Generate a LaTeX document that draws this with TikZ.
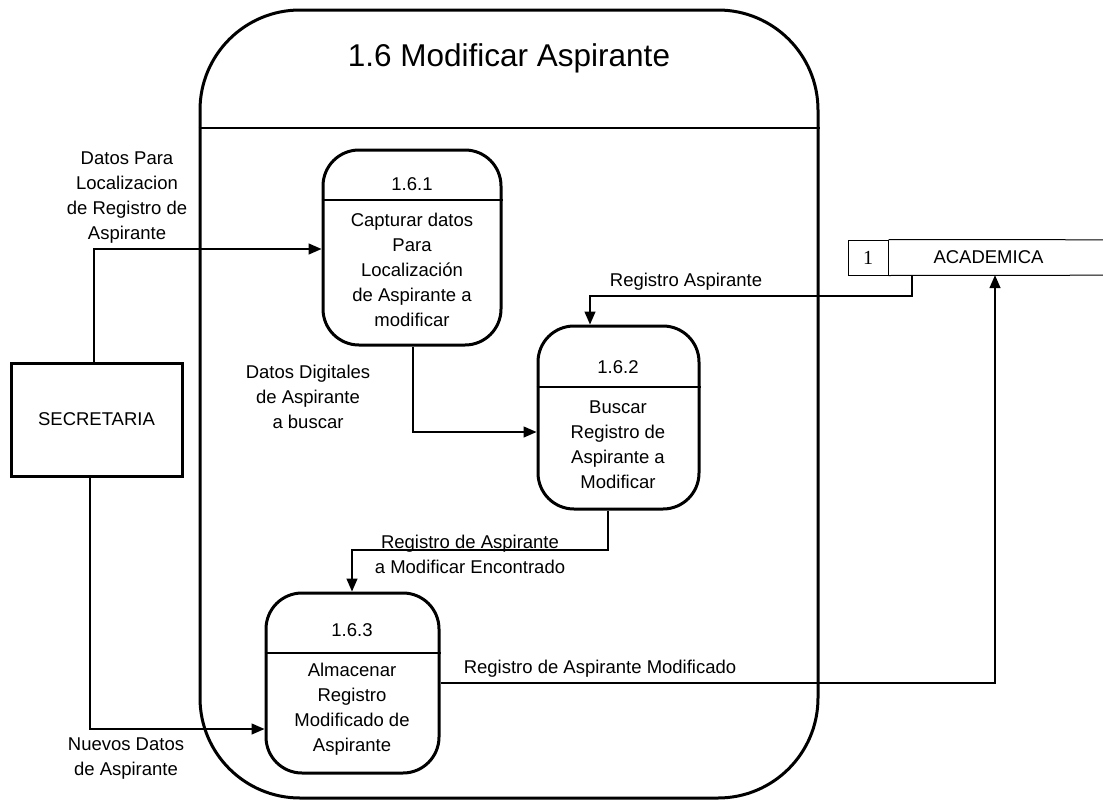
\documentclass[tikz,border=0pt]{standalone}
\usepackage{fontspec}
\setmainfont{Liberation Sans}
\newfontfamily\serifnum{Liberation Serif}
\usetikzlibrary{arrows.meta}
\tikzset{
  txt/.style={font=\fontsize{18.5}{25}\selectfont, align=center, inner sep=0pt},
  proc/.style={draw, line width=3pt, rounded corners=36pt, inner sep=0pt},
  flow/.style={line width=1.4pt, -{Triangle[length=13pt,width=11pt]}},
  thin/.style={line width=1.4pt}
}
\begin{document}
\begin{tikzpicture}[x=1pt,y=-1pt]
\useasboundingbox (0,0) rectangle (1103,803);
% main process
\node[draw, line width=3pt, rounded corners=100pt, minimum width=618pt, minimum height=788pt, inner sep=0pt] (main) at (509,404) {};
\coordinate (md) at (509,128);
\draw[thin] (md -| main.west) -- (md -| main.east);
\node[font=\fontsize{31.5}{36}\selectfont, inner sep=0pt] (title) at (509,58) {1.6 Modificar Aspirante};
% processes
\node[proc, minimum width=178pt, minimum height=195pt] (p1) at (412,247.5) {};
\coordinate (d1) at (412,200);
\draw[thin] (d1 -| p1.west) -- (d1 -| p1.east);
\node[txt] (p1n) at (412,184) {1.6.1};
\node[txt] (p1t) at (412,270) {Capturar datos\\Para\\Localización\\de Aspirante a\\modificar};

\node[proc, minimum width=161pt, minimum height=183pt] (p2) at (618.5,417.5) {};
\coordinate (d2) at (618,387);
\draw[thin] (d2 -| p2.west) -- (d2 -| p2.east);
\node[txt] (p2n) at (618,367) {1.6.2};
\node[txt] (p2t) at (618,445) {Buscar\\Registro de\\Aspirante a\\Modificar};

\node[proc, minimum width=173pt, minimum height=180pt] (p3) at (352.5,683) {};
\coordinate (d3) at (352,653);
\draw[thin] (d3 -| p3.west) -- (d3 -| p3.east);
\node[txt] (p3n) at (352,630) {1.6.3};
\node[txt] (p3t) at (352,709.5) {Almacenar\\Registro\\Modificado de\\Aspirante};
% external entity
\node[draw, line width=3pt, minimum width=171pt, minimum height=113pt, inner sep=0pt, font=\fontsize{18.5}{25}\selectfont] (sec) at (96.5,419.5) {SECRETARIA};
% data store
\node[draw, line width=1pt, minimum width=40pt, minimum height=35pt, inner sep=0pt, font=\serifnum\fontsize{20}{24}\selectfont] (num) at (868,257.5) {1};
\node[minimum width=215pt, minimum height=35pt, inner sep=0pt, font=\fontsize{18.5}{25}\selectfont] (acad) at (995.5,257.5) {\hspace{-14pt}ACADEMICA};
\draw[line width=1pt] (num.north east) -- (acad.north east);
\draw[line width=1pt] (num.south east) -- (acad.south east);
% connectors
\coordinate (c1) at (94,249);
\draw[flow] (c1 |- sec.north) -- (c1) -- (c1 -| p1.west);
\node[txt] (l1) at (127,198) {Datos Para\\Localizacion\\de Registro de\\Aspirante};

\coordinate (c2) at (413,432);
\draw[flow] (c2 |- p1.south) -- (c2) -- (c2 -| p2.west);
\node[txt] (l2) at (308,397) {Datos Digitales\\de Aspirante\\a buscar};

\coordinate (c3) at (912,296);
\coordinate (c3b) at (590,296);
\draw[flow] (c3 |- acad.south) -- (c3) -- (c3b) -- (c3b |- p2.north);
\node[txt] (l3) at (686,282) {Registro Aspirante};

\coordinate (c4) at (608,550);
\coordinate (c4b) at (352,550);
\draw[flow] (c4 |- p2.south) -- (c4) -- (c4b) -- (c4b |- p3.north);
\node[txt] (l4) at (470,554) {Registro de Aspirante\\a Modificar Encontrado};

\coordinate (c5) at (995,683);
\draw[flow] (p3.east |- c5) -- (c5) -- (c5 |- acad.south);
\node[txt] (l5) at (600,669) {Registro de Aspirante Modificado};

\coordinate (c6) at (90,729);
\draw[flow] (c6 |- sec.south) -- (c6) -- (c6 -| p3.west);
\node[txt] (l6) at (126,759) {Nuevos Datos\\de Aspirante};
\end{tikzpicture}
\end{document}
